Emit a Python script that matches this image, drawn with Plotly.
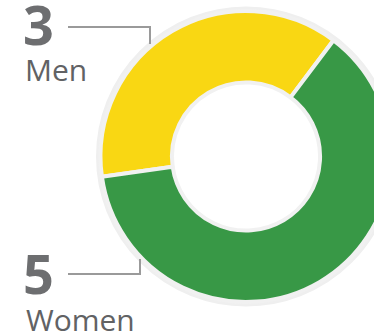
import plotly.graph_objects as go

categories = ["Men", "Women"]
values = [3, 5]
slice_colors = ["#F9D713", "#389846"]

W, H = 400, 332
CX, CY, R = 246, 156.5, 145.5


def px(x):
    return x / W


def py(y):
    return 1 - y / H


fig = go.Figure()
fig.add_trace(go.Pie(
    labels=categories,
    values=values,
    sort=False,
    direction="clockwise",
    rotation=262,
    hole=0.509,
    marker=dict(colors=slice_colors, line=dict(color="#f1f1f1", width=4)),
    textinfo="none",
    hoverinfo="none",
    showlegend=False,
    domain=dict(x=[px(CX - R), px(CX + R)], y=[py(CY + R), py(CY - R)]),
))

shapes = [
    dict(type="circle", xref="paper", yref="paper",
         x0=px(CX - 147), x1=px(CX + 147), y0=py(CY + 147), y1=py(CY - 147),
         line=dict(color="#efefef", width=6), layer="below"),
    dict(type="path", xref="paper", yref="paper",
         path=f"M {px(68)} {py(27)} L {px(150)} {py(27)} L {px(150)} {py(44)}",
         line=dict(color="#9a9a9a", width=2)),
    dict(type="path", xref="paper", yref="paper",
         path=f"M {px(68)} {py(274)} L {px(140)} {py(274)} L {px(140)} {py(259)}",
         line=dict(color="#9a9a9a", width=2)),
]

num_font = dict(family="Open Sans", size=54, color="#6d6e70")
lab_font = dict(family="Open Sans", size=30, color="#616264")

annotations = [
    dict(text=f"<b>{values[0]}</b>", x=px(21), y=py(24), font=num_font),
    dict(text=categories[0], x=px(22.5), y=py(69), font=lab_font),
    dict(text=f"<b>{values[1]}</b>", x=px(21), y=py(273), font=num_font),
    dict(text=categories[1], x=px(24), y=py(319), font=lab_font),
]
for a in annotations:
    a.update(xref="paper", yref="paper", xanchor="left", yanchor="middle", showarrow=False)

fig.update_layout(
    width=W, height=H,
    margin=dict(l=0, r=0, t=0, b=0),
    paper_bgcolor="white", plot_bgcolor="white",
    shapes=shapes, annotations=annotations,
)

fig.write_html(
    "out.html",
    config={"displayModeBar": False},
    post_script="document.body.style.margin='0';document.body.style.overflow='hidden';",
)
